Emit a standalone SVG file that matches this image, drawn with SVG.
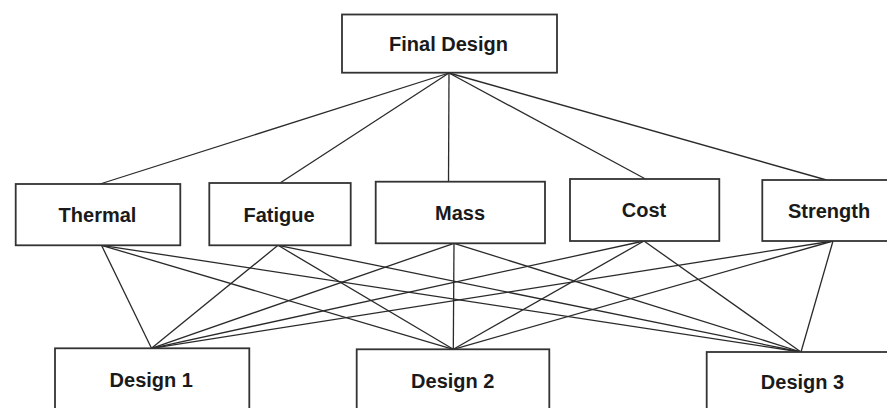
<svg xmlns="http://www.w3.org/2000/svg" width="887" height="408" viewBox="0 0 887 408">
  <style>
    .box { fill: #ffffff; stroke: #333333; stroke-width: 1.8; }
    .lbl { font-family: "Liberation Sans", Arial, sans-serif; font-weight: bold; font-size: 20px; fill: #1a1a1a; text-anchor: middle; }
    .edge { stroke: #2a2a2a; stroke-width: 1.3; fill: none; }
  </style>
  <rect width="887" height="408" fill="#ffffff"/>

  <g id="connectors">
    <!-- goal to criteria -->
    <line class="edge" x1="449" y1="73" x2="100" y2="184"/>
    <line class="edge" x1="449" y1="73" x2="280" y2="183"/>
    <line class="edge" x1="449" y1="73" x2="448.5" y2="181.7"/>
    <line class="edge" x1="449" y1="73" x2="645.5" y2="179"/>
    <line class="edge" x1="449" y1="73" x2="826.5" y2="180"/>
    <!-- criteria to alternatives -->
    <line class="edge" x1="101.5" y1="245.3" x2="151.5" y2="348.3"/>
    <line class="edge" x1="101.5" y1="245.3" x2="453.3" y2="349.3"/>
    <line class="edge" x1="101.5" y1="245.3" x2="801" y2="352"/>
    <line class="edge" x1="278" y1="245.3" x2="151.5" y2="348.3"/>
    <line class="edge" x1="278" y1="245.3" x2="453.3" y2="349.3"/>
    <line class="edge" x1="278" y1="245.3" x2="801" y2="352"/>
    <line class="edge" x1="454" y1="243.3" x2="151.5" y2="348.3"/>
    <line class="edge" x1="454" y1="243.3" x2="453.3" y2="349.3"/>
    <line class="edge" x1="454" y1="243.3" x2="801" y2="352"/>
    <line class="edge" x1="644" y1="241" x2="151.5" y2="348.3"/>
    <line class="edge" x1="644" y1="241" x2="453.3" y2="349.3"/>
    <line class="edge" x1="644" y1="241" x2="801" y2="352"/>
    <line class="edge" x1="833" y1="241" x2="151.5" y2="348.3"/>
    <line class="edge" x1="833" y1="241" x2="453.3" y2="349.3"/>
    <line class="edge" x1="833" y1="241" x2="801" y2="352"/>
  </g>

  <g id="final-design">
    <rect class="box" x="342" y="14.5" width="215" height="58.2"/>
    <text class="lbl" x="448.5" y="51">Final Design</text>
  </g>

  <g id="thermal">
    <rect class="box" x="15.7" y="184" width="164.6" height="61.3"/>
    <text class="lbl" x="97.5" y="222">Thermal</text>
  </g>
  <g id="fatigue">
    <rect class="box" x="209.3" y="183" width="141.4" height="62.3"/>
    <text class="lbl" x="279" y="221.5">Fatigue</text>
  </g>
  <g id="mass">
    <rect class="box" x="375.7" y="181.7" width="169.3" height="61.6"/>
    <text class="lbl" x="460" y="220">Mass</text>
  </g>
  <g id="cost">
    <rect class="box" x="570" y="179" width="149.3" height="62"/>
    <text class="lbl" x="644" y="217.3">Cost</text>
  </g>
  <g id="strength">
    <rect class="box" x="762.3" y="180" width="140" height="61"/>
    <text class="lbl" x="829" y="218.3">Strength</text>
  </g>

  <g id="design-1">
    <rect class="box" x="55" y="348.3" width="194.3" height="80"/>
    <text class="lbl" x="151.3" y="386.7">Design 1</text>
  </g>
  <g id="design-2">
    <rect class="box" x="356.7" y="349.3" width="192.6" height="80"/>
    <text class="lbl" x="452.8" y="388.3">Design 2</text>
  </g>
  <g id="design-3">
    <rect class="box" x="706.7" y="352" width="200" height="80"/>
    <text class="lbl" x="802.5" y="389">Design 3</text>
  </g>
</svg>
